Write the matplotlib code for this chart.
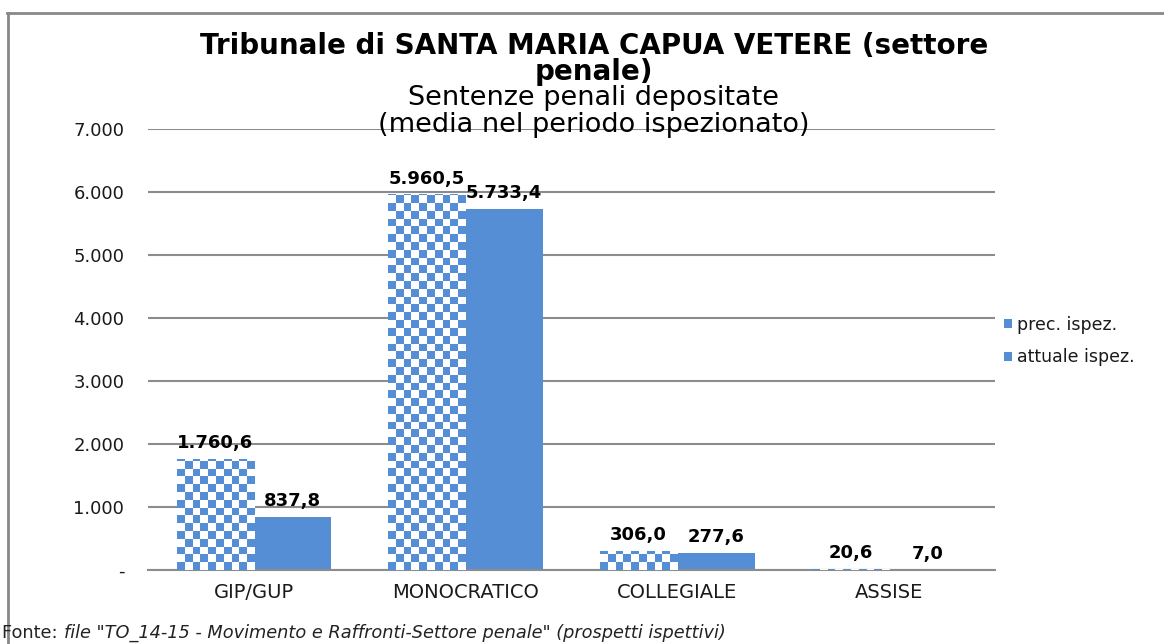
import matplotlib
matplotlib.use("Agg")
import matplotlib.pyplot as plt
from matplotlib.patches import Patch
from matplotlib.lines import Line2D
import numpy as np

categories = ["GIP/GUP", "MONOCRATICO", "COLLEGIALE", "ASSISE"]
prec_ispez = [1760.6, 5960.5, 306.0, 20.6]
attuale_ispez = [837.8, 5733.4, 277.6, 7.0]
series_names = ["prec. ispez.", "attuale ispez."]
yticks = [0, 1000, 2000, 3000, 4000, 5000, 6000, 7000]

BLUE = "#558ED5"
GRID = "#8C8C8C"


def fmt_it(v, dec=1):
    s = f"{v:,.{dec}f}"
    return s.replace(",", "X").replace(".", ",").replace("X", ".")


def tick_fmt(v):
    return "-" if v == 0 else fmt_it(v, 0)


fig = plt.figure(figsize=(11.64, 6.44), dpi=100)
ax = fig.add_axes([0.1271, 0.1149, 0.8548 - 0.1271, 0.7997 - 0.1149])

x = np.arange(len(categories))
w = 0.365
ax.set_xlim(-0.5, len(categories) - 0.5)
ax.set_ylim(0, 7000)

bars_prec = ax.bar(x - w / 2, prec_ispez, w, color="white", linewidth=0, zorder=2)
bars_att = ax.bar(x + w / 2, attuale_ispez, w, color=BLUE, linewidth=0, zorder=2)

# checkerboard fill for the previous inspection bars
fig.canvas.draw()
cell = 7.8  # pixels
for b in bars_prec:
    x0, y0 = b.get_x(), 0
    x1, y1 = x0 + b.get_width(), b.get_height()
    p0 = ax.transData.transform((x0, y0))
    p1 = ax.transData.transform((x1, y1))
    nx = max(1, int(round((p1[0] - p0[0]) / cell)))
    ny = max(1, int(np.ceil((p1[1] - p0[1]) / cell)))
    top_y = y0 + ny * cell * (y1 - y0) / max(p1[1] - p0[1], 1e-9)
    ii, jj = np.meshgrid(np.arange(nx), np.arange(ny))
    chk = ((ii + jj) % 2).astype(float)
    im = ax.imshow(chk, cmap=matplotlib.colors.ListedColormap([BLUE, "white"]),
                   extent=(x0, x1, y0, top_y), origin="lower",
                   aspect="auto", interpolation="nearest", zorder=3)
    im.set_clip_path(b)
ax.set_xlim(-0.5, len(categories) - 0.5)
ax.set_ylim(0, 7000)

for bars, vals in ((bars_prec, prec_ispez), (bars_att, attuale_ispez)):
    for b, v in zip(bars, vals):
        ax.annotate(fmt_it(v), (b.get_x() + b.get_width() / 2, v),
                    xytext=(0, 5), textcoords="offset points",
                    ha="center", va="bottom", fontsize=13, fontweight="bold",
                    family="DejaVu Sans", color="black", zorder=5)

ax.set_yticks(yticks)
ax.set_yticklabels([tick_fmt(v) for v in yticks], family="DejaVu Sans",
                   fontsize=13, color="#1a1a1a")
ax.set_xticks(x)
ax.set_xticklabels(categories, family="DejaVu Sans", fontsize=14, color="#1a1a1a")
ax.tick_params(axis="y", length=0, pad=17)
ax.tick_params(axis="x", length=0, pad=9)
ax.yaxis.grid(True, color=GRID, linewidth=1.5, zorder=0)
ax.set_axisbelow(True)
for s in ("top", "right", "left"):
    ax.spines[s].set_visible(False)
ax.spines["bottom"].set_color(GRID)
ax.spines["bottom"].set_linewidth(1.5)

# titles
title_lines = ["Tribunale di SANTA MARIA CAPUA VETERE (settore", "penale)"]
subtitle_lines = ["Sentenze penali depositate", "(media nel periodo ispezionato)"]
for txt, ypx in zip(title_lines, (46, 72)):
    fig.text(594 / 1164, 1 - ypx / 644, txt, ha="center", va="center",
             fontsize=20, fontweight="bold", family="DejaVu Sans")
for txt, ypx in zip(subtitle_lines, (98, 125)):
    fig.text(594 / 1164, 1 - ypx / 644, txt, ha="center", va="center",
             fontsize=19.5, family="DejaVu Sans")

# legend
handles = [Patch(facecolor=BLUE, linewidth=0), Patch(facecolor=BLUE, linewidth=0)]
fig.legend(handles, series_names, loc="center left",
           bbox_to_anchor=(0.849, 1 - 341 / 644), frameon=False,
           prop={"family": "DejaVu Sans", "size": 12.5},
           handlelength=0.45, handleheight=0.45, handletextpad=0.3,
           labelspacing=0.85, labelcolor="#1a1a1a")

# source note
t1 = fig.text(0.002, 1 - 633 / 644, "Fonte: ", ha="left", va="center",
              fontsize=12.8, family="DejaVu Sans", color="#222222")
ax.annotate('file "TO_14-15 - Movimento e Raffronti-Settore penale" (prospetti ispettivi)',
            xy=(1, 0.5), xycoords=t1, ha="left", va="center", fontsize=12.8,
            family="DejaVu Sans", style="italic", color="#222222",
            annotation_clip=False)

# outer frame of the chart area
fig.add_artist(Line2D([8 / 1164, 8 / 1164], [0, 1 - 13 / 644],
                      transform=fig.transFigure, color="#888888", linewidth=2))
fig.add_artist(Line2D([7 / 1164, 1], [1 - 13 / 644, 1 - 13 / 644],
                      transform=fig.transFigure, color="#888888", linewidth=2))

fig.savefig("out.png", dpi=100)
